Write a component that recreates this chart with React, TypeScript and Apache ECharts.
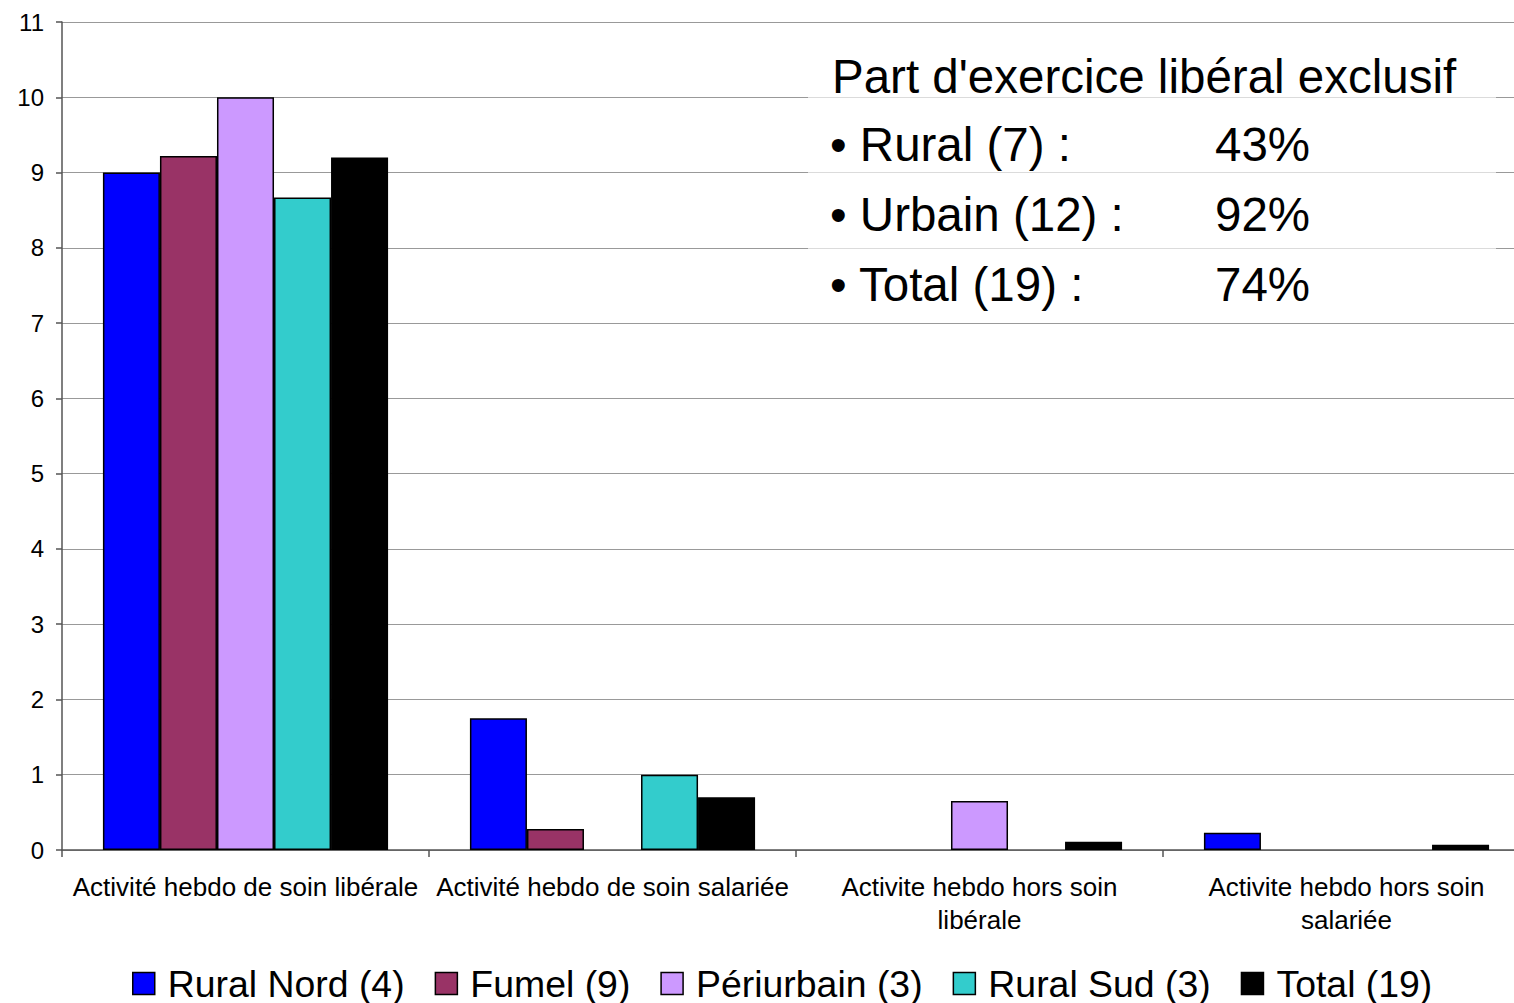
import React, { useEffect, useRef } from "react";
import * as echarts from "echarts";

const categories = [
  "Activité hebdo de soin libérale",
  "Activité hebdo de soin salariée",
  "Activite hebdo hors soin\nlibérale",
  "Activite hebdo hors soin\nsalariée",
];
const seriesNames = ["Rural Nord (4)", "Fumel (9)", "Périurbain (3)", "Rural Sud (3)", "Total (19)"];
const seriesColors = ["#0000FF", "#993366", "#CC99FF", "#33CCCC", "#000000"];
const ruralNord = [9.0, 1.75, 0, 0.23];
const fumel = [9.22, 0.28, 0, 0];
const periurbain = [10.0, 0, 0.65, 0];
const ruralSud = [8.67, 1.0, 0, 0];
const total = [9.2, 0.7, 0.11, 0.07];
const seriesValues = [ruralNord, fumel, periurbain, ruralSud, total];

const boxTitle = "Part d'exercice libéral exclusif";
const boxLabels = ["• Rural (7) :", "• Urbain (12) :", "• Total (19) :"];
const boxValues = ["43%", "92%", "74%"];

const FONT = "'Liberation Sans', Arial, Helvetica, sans-serif";

export default function App() {
  const ref = useRef<HTMLDivElement>(null);
  useEffect(() => {
    if (!ref.current) return;
    const chart = echarts.init(ref.current, undefined, { renderer: "svg" });
    const rowY = [144, 214, 284];
    const textStyle = (t: string) => ({
      text: t,
      fontSize: 47.5,
      fontFamily: FONT,
      fill: "#000",
      verticalAlign: "middle",
      align: "left",
    });
    const graphic: any[] = [
      {
        type: "rect",
        shape: { x: 808, y: 42, width: 688, height: 276 },
        style: { fill: "rgba(255,255,255,0.65)" },
        z: 10,
      },
      { type: "text", x: 832, y: 76, z: 11, style: textStyle(boxTitle) },
      ...boxLabels.map((t, i) => ({ type: "text", x: 830, y: rowY[i], z: 11, style: textStyle(t) })),
      ...boxValues.map((t, i) => ({ type: "text", x: 1215, y: rowY[i], z: 11, style: textStyle(t) })),
    ];
    chart.setOption({
      animation: false,
      backgroundColor: "#ffffff",
      textStyle: { fontFamily: FONT },
      grid: { left: 62, top: 22, bottom: 153, right: 0, containLabel: false },
      legend: {
        data: seriesNames,
        bottom: -4,
        left: 127,
        itemWidth: 22,
        itemHeight: 22,
        itemGap: 30,
        icon: "rect",
        textStyle: { fontSize: 37.4, color: "#000", fontFamily: FONT, padding: [0, 0, 0, 8] },
        itemStyle: { borderColor: "#000", borderWidth: 1.5 },
      },
      xAxis: {
        type: "category",
        data: categories,
        axisLine: { show: true, lineStyle: { color: "#555", width: 1.5 } },
        axisTick: { show: true, length: 7, lineStyle: { color: "#555", width: 1.5 } },
        axisLabel: { interval: 0, fontSize: 26, color: "#000", margin: 20, lineHeight: 33, fontFamily: FONT },
      },
      yAxis: {
        type: "value",
        min: 0,
        max: 11,
        interval: 1,
        axisLine: { show: true, lineStyle: { color: "#555", width: 1.5 } },
        axisTick: { show: true, length: 6, lineStyle: { color: "#555", width: 1.5 } },
        axisLabel: { fontSize: 24, color: "#000", margin: 18, fontFamily: FONT },
        splitLine: { show: true, lineStyle: { color: "#999", width: 1 } },
      },
      graphic,
      series: seriesNames.map((name, i) => ({
        name,
        type: "bar",
        data: seriesValues[i].map((v) => (v === 0 ? null : v)),
        barGap: "0%",
        barCategoryGap: "22.3%",
        itemStyle: { color: seriesColors[i], borderColor: "#000", borderWidth: 1.5 },
      })),
    });
    return () => chart.dispose();
  }, []);
  return (
    <div style={{ position: "absolute", left: 0, top: 0, width: 1514, height: 1003, overflow: "hidden", background: "#fff" }}>
      <div ref={ref} style={{ width: 1530, height: 1003 }} />
    </div>
  );
}
